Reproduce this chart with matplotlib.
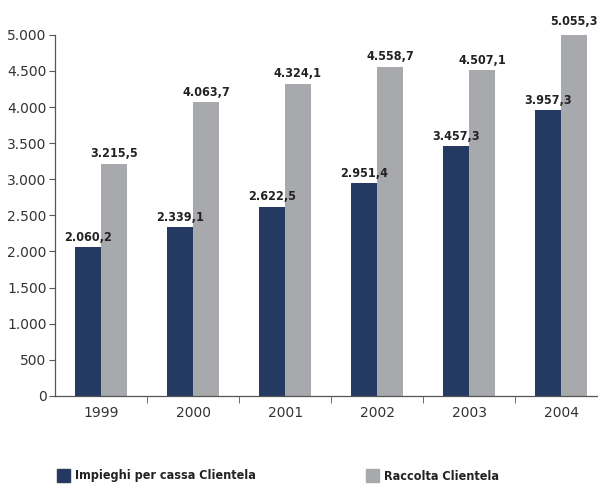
import numpy as np
import matplotlib.pyplot as plt
from matplotlib.patches import Rectangle

years = ["1999", "2000", "2001", "2002", "2003", "2004"]
impieghi = [2060.2, 2339.1, 2622.5, 2951.4, 3457.3, 3957.3]
raccolta = [3215.5, 4063.7, 4324.1, 4558.7, 4507.1, 5055.3]
y_ticks = [0, 500, 1000, 1500, 2000, 2500, 3000, 3500, 4000, 4500, 5000]

dark = "#243a63"
grey = "#a8a9ad"

def fmt(v, dec=1):
    s = f"{v:,.{dec}f}"
    return s.replace(",", "X").replace(".", ",").replace("X", ".")

fig = plt.figure(figsize=(5.98, 4.84), dpi=100)
ax = fig.add_axes([0.092, 0.182, 0.908, 0.746])

x = np.arange(len(years))
w = 0.28
ax.bar(x - w / 2, impieghi, w, color=dark)
ax.bar(x + w / 2, raccolta, w, color=grey)

lab_font = dict(fontsize=9, fontweight="bold", fontstretch="condensed", family="DejaVu Sans")
for xi, a, b in zip(x, impieghi, raccolta):
    ax.text(xi - w / 2, a + 45, fmt(a), ha="center", va="bottom", color="#222222", **lab_font)
    ax.text(xi + w / 2, b + 45, fmt(b), ha="center", va="bottom", color="#222222", **lab_font)

ax.set_xlim(-0.5, 5.4)
ax.set_ylim(0, 5000)
ax.set_yticks(y_ticks)
ax.set_yticklabels([fmt(t, 0) for t in y_ticks], fontsize=10, color="#333333")
ax.set_xticks(x)
ax.set_xticklabels(years, fontsize=10, color="#333333")
ax.tick_params(axis="x", length=0, pad=7)
ax.set_xticks(np.arange(0.5, 5.5, 1), minor=True)
ax.tick_params(axis="x", which="minor", length=5, color="#555555")
ax.tick_params(axis="y", length=4, color="#555555", pad=2)

for s in ["top", "right"]:
    ax.spines[s].set_visible(False)
for s in ["left", "bottom"]:
    ax.spines[s].set_color("#555555")
    ax.spines[s].set_linewidth(0.9)

# legend at bottom
leg_font = dict(fontsize=9, fontweight="bold", fontstretch="condensed", family="DejaVu Sans",
                color="#222222", va="center")
fig.patches.append(Rectangle((57 / 598, 1 - 482 / 484), 13 / 598, 13 / 484,
                             transform=fig.transFigure, color=dark))
fig.text(75 / 598, 1 - 476 / 484, "Impieghi per cassa Clientela", **leg_font)
fig.patches.append(Rectangle((366 / 598, 1 - 482 / 484), 13 / 598, 13 / 484,
                             transform=fig.transFigure, color=grey))
fig.text(384 / 598, 1 - 476 / 484, "Raccolta Clientela", **leg_font)

fig.savefig("out.png", dpi=100)
